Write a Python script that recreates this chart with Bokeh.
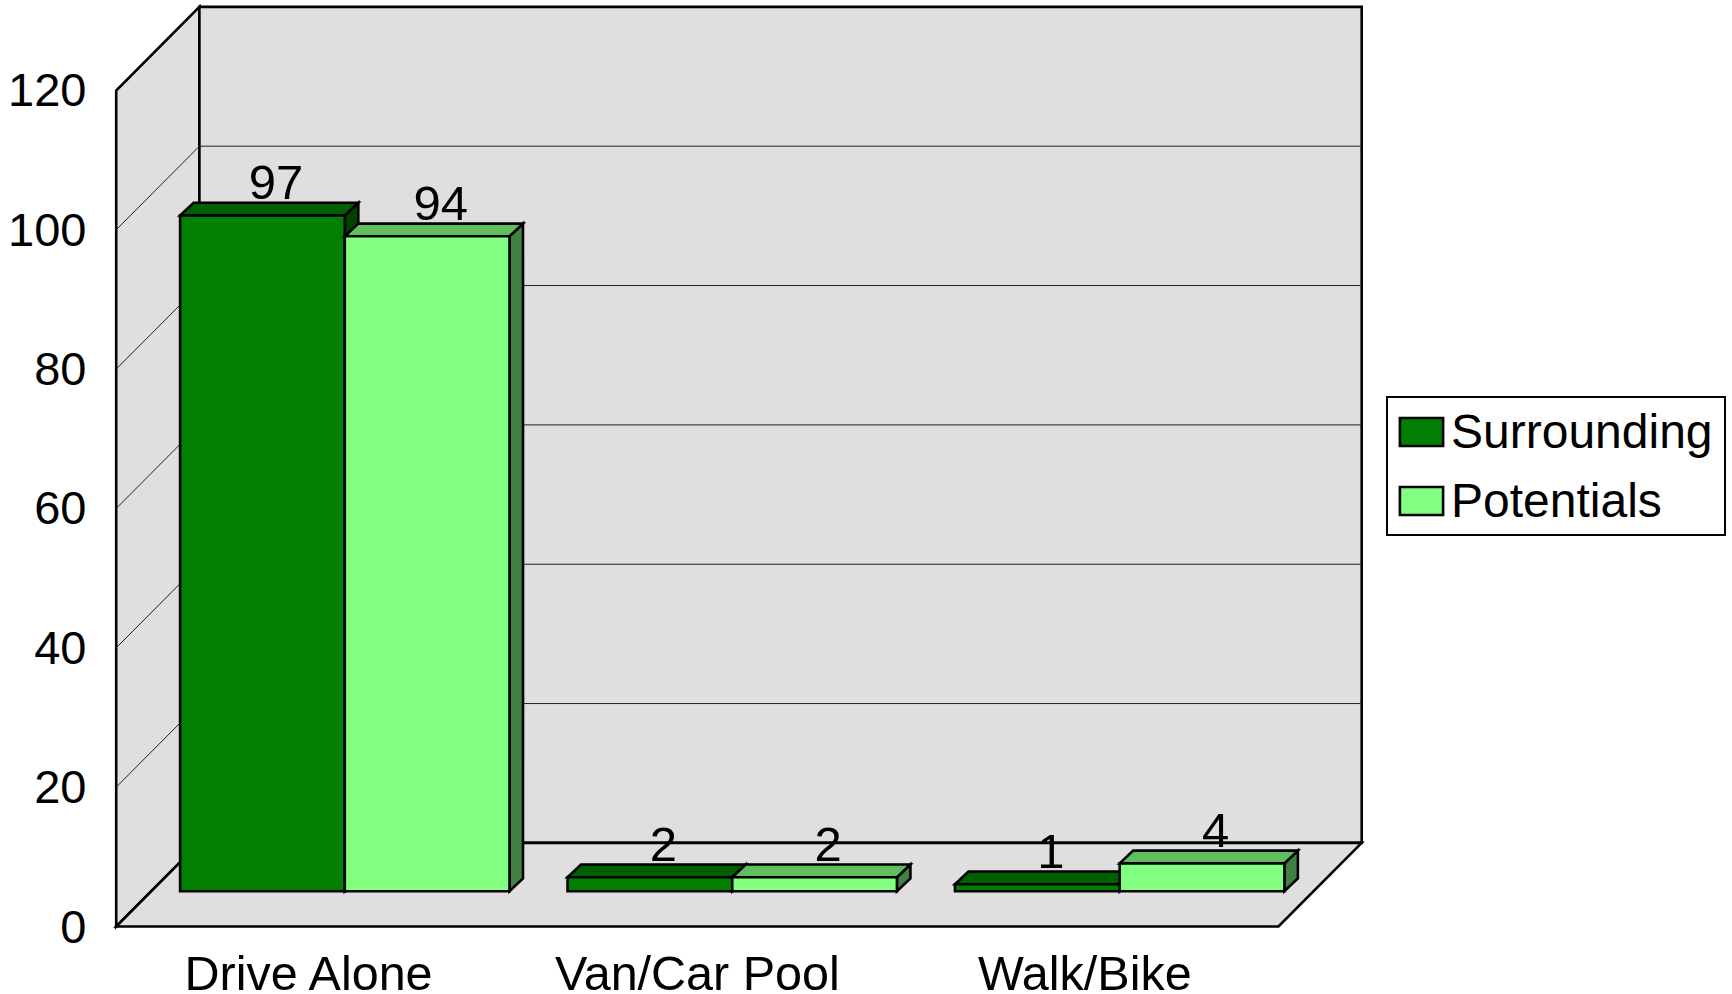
from bokeh.plotting import figure
from bokeh.models import Legend, LegendItem, FixedTicker, Range1d
from bokeh.core.properties import value
from bokeh.embed import file_html
from bokeh.resources import INLINE

categories = ["Drive Alone", "Van/Car Pool", "Walk/Bike"]
surrounding = [97, 2, 1]
potentials = [94, 2, 4]
y_ticks = [0, 20, 40, 60, 80, 100, 120]

FONT = "Liberation Sans"
U = 387.43      # px per category
K = 6.967       # px per value unit
ORIGIN_X, ORIGIN_Y = 115.7, 926.0
FRAME_L, FRAME_W, FRAME_H = 100, 1632, 940

dx = 83.2 / U   # wall depth
dy = 83.6 / K
bdx = 13.5 / U  # bar depth
bdy = 12.7 / K
bar0 = 63.9 / U
bw = 164.7 / U
base = 35.3 / K
n = len(categories)
vmax = y_ticks[-1]

p = figure(width=1732, height=994, frame_width=FRAME_W, frame_height=FRAME_H,
           output_backend="svg", toolbar_location=None,
           x_range=Range1d((FRAME_L - ORIGIN_X) / U, (FRAME_L + FRAME_W - ORIGIN_X) / U),
           y_range=Range1d((ORIGIN_Y - FRAME_H) / K, ORIGIN_Y / K),
           min_border=0, min_border_left=FRAME_L, outline_line_color=None,
           margin=(0, 0, 0, 0))
p.grid.visible = False

WALL = "#DFDFDF"
EDGE = dict(line_color="black", line_width=2.6, line_join="miter")
# walls and floor
p.patches([[0, 0, dx, dx]], [[0, vmax, vmax + dy, dy]], fill_color=WALL, **EDGE)
p.patches([[dx, dx, n + dx, n + dx]], [[dy, vmax + dy, vmax + dy, dy]], fill_color=WALL, **EDGE)
p.patches([[0, dx, n + dx, n]], [[0, dy, dy, 0]], fill_color=WALL, **EDGE)
# gridlines
for t in y_ticks[1:-1]:
    p.line([0, dx, n + dx], [t, t + dy, t + dy], line_color="#222222", line_width=1)

series = [
    (surrounding, 0, "#007F00", "#005F00", "#004000"),
    (potentials, 1, "#80FF80", "#5FBF5F", "#408040"),
]
fronts = []
for vals, s, front, top, side in series:
    lefts = [i + bar0 + s * bw for i in range(n)]
    rights = [l + bw for l in lefts]
    tops = [base + v for v in vals]
    p.patches([[r, r, r + bdx, r + bdx] for r in rights],
              [[base, t, t + bdy, base + bdy] for t in tops],
              fill_color=side, **EDGE)
    p.patches([[l, l + bdx, r + bdx, r] for l, r in zip(lefts, rights)],
              [[t, t + bdy, t + bdy, t] for t in tops],
              fill_color=top, **EDGE)
    fronts.append(p.quad(left=lefts, right=rights, bottom=[base] * n, top=tops,
                         fill_color=front, **EDGE))

for vals, s, *_ in series:
    xs = [i + bar0 + s * bw + bw / 2 + bdx for i in range(n)]
    ys = [base + v + bdy + 20.5 / K for v in vals]
    p.text(xs, ys, text=[str(v) for v in vals], text_font=value(FONT), text_font_size="49px",
           text_color="black", text_align="center", text_baseline="alphabetic")

# axes
p.yaxis.ticker = FixedTicker(ticks=y_ticks)
p.xaxis.ticker = FixedTicker(ticks=[i + 0.5 for i in range(n)])
p.xaxis.major_label_overrides = {i + 0.5: c for i, c in enumerate(categories)}
for ax in (p.xaxis[0], p.yaxis[0]):
    ax.axis_line_color = None
    ax.major_tick_line_color = None
    ax.minor_tick_line_color = None
    ax.major_tick_out = 0
    ax.major_tick_in = 0
    ax.major_label_text_font = FONT
    ax.major_label_text_color = "black"
p.yaxis.major_label_text_font_size = "47px"
p.xaxis.major_label_text_font_size = "48.5px"
p.yaxis.major_label_standoff = 14
p.xaxis.major_label_standoff = 5

legend = Legend(items=[LegendItem(label="Surrounding", renderers=[fronts[0]]),
                       LegendItem(label="Potentials", renderers=[fronts[1]])],
                location=(1286, 404), orientation="vertical",
                label_text_font=FONT, label_text_font_size="48px", label_text_color="black",
                glyph_width=54, glyph_height=35, label_standoff=3, spacing=14, label_width=267,
                padding=6, margin=0, border_line_color="black", border_line_width=2.6,
                border_line_alpha=1.0,
                background_fill_color="white", background_fill_alpha=1.0)
p.add_layout(legend)

open("out.html", "w").write(file_html(p, INLINE))
